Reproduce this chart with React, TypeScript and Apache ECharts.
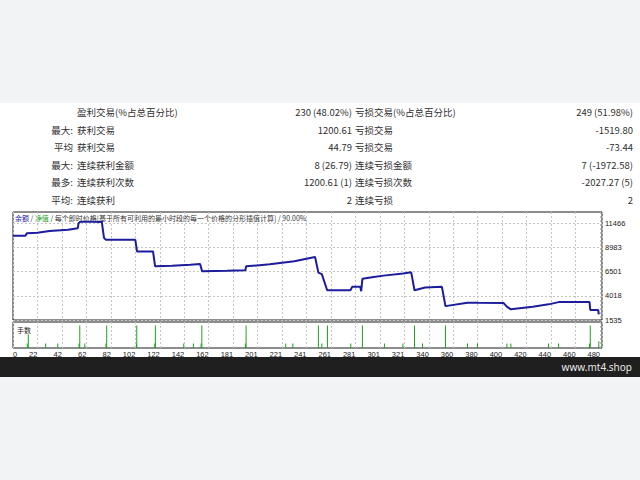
import React, { useEffect, useRef } from 'react';
import * as echarts from 'echarts';

// ---- statistics table ----
const rowPrefixes = ['', '最大:', '平均', '最大:', '最多:', '平均:'];
const winNames = ['盈利交易(%占总百分比)', '获利交易', '获利交易', '连续获利金额', '连续获利次数', '连续获利'];
const winValues = ['230 (48.02%)', '1200.61', '44.79', '8 (26.79)', '1200.61 (1)', '2'];
const lossNames = ['亏损交易(%占总百分比)', '亏损交易', '亏损交易', '连续亏损金额', '连续亏损次数', '连续亏损'];
const lossValues = ['249 (51.98%)', '-1519.80', '-73.44', '7 (-1972.58)', '-2027.27 (5)', '2'];

// ---- axes ----
const xTickLabels = ['0', '22', '42', '62', '82', '102', '122', '142', '162', '181', '201', '221', '241',
  '261', '281', '301', '321', '340', '360', '380', '400', '420', '440', '460', '480'];
const yTickValues = [1535, 4018, 6501, 8983, 11466];

// ---- balance curve (trade index, balance) ----
const equityX = [0, 10, 11.5, 20, 30, 45, 53, 53.6, 55, 65, 72.6, 74.4, 76, 90, 100, 101.4, 114.5, 116.2,
  130, 145, 153, 154.6, 175, 190, 190.6, 210, 230, 247, 249.7, 252.5, 256.9, 276, 277.3, 284, 284.7, 285.7,
  295, 303, 319, 325.6, 328.3, 337, 350.7, 353.6, 371.6, 380, 401, 403.8, 407.1, 425, 437.9, 446.1, 471.4,
  472, 478.5, 479];
const equityY = [10170, 10170, 10450, 10500, 10680, 10800, 10960, 11470, 11630, 11620, 11600, 9970, 9760,
  9780, 9760, 8570, 8570, 7040, 7100, 7200, 7290, 6530, 6580, 6640, 7040, 7250, 7560, 8000, 6400, 6250,
  4590, 4600, 4940, 4940, 4490, 5760, 5950, 6090, 6300, 6430, 4590, 4870, 4940, 2960, 3310, 3300, 3290,
  2900, 2630, 2900, 3140, 3370, 3370, 2560, 2550, 2120];

// ---- lots panel ----
const lotX = [11.7, 12.5, 26.7, 36.6, 54, 54.6, 58.7, 76, 76.6, 100.9, 101.2, 115.9, 116.4, 139.6, 147.5,
  153.8, 154.4, 190, 190.6, 223, 228.8, 249.7, 252.5, 257.1, 276.2, 285.7, 303.7, 318.8, 328.3, 334.8,
  353.6, 371.6, 379.8, 403.8, 407.1, 437.9, 446.1, 471.4, 472, 479];
const lotY = [0.2, 0.6, 0.2, 0.2, 0.2, 1.0, 0.2, 0.2, 1.0, 0.2, 1.0, 0.2, 1.0, 0.2, 0.2, 0.2, 1.0, 0.2,
  1.0, 0.2, 0.2, 1.0, 0.2, 1.0, 0.2, 1.0, 0.2, 0.2, 1.0, 0.2, 1.0, 0.2, 0.2, 0.2, 0.2, 0.2, 0.2, 0.2, 1.0, 0.3];

const CJK = '"Noto Sans CJK SC", "Noto Sans", sans-serif';
const SMALL = '"Liberation Sans", Arial, sans-serif';

export default function App() {
  const ref = useRef<HTMLDivElement>(null);
  useEffect(() => {
    if (!ref.current) return;
    const chart = echarts.init(ref.current, null, { renderer: 'svg' });

    const rowY = [112, 129.5, 147, 164.5, 182, 199.5];
    const textColor = '#303030';
    const tableTexts: any[] = [];
    rowY.forEach((y, i) => {
      const mk = (x: number, text: string, align: string) => ({
        type: 'text', x, y, silent: true,
        style: { text, fill: textColor, fontSize: 9.5, fontFamily: CJK, align, verticalAlign: 'middle' },
      });
      if (rowPrefixes[i]) tableTexts.push(mk(73, rowPrefixes[i], 'right'));
      tableTexts.push(mk(77, winNames[i], 'left'));
      tableTexts.push(mk(352, winValues[i], 'right'));
      tableTexts.push(mk(355, lossNames[i], 'left'));
      tableTexts.push(mk(633, lossValues[i], 'right'));
    });

    const xFmt = (v: number) => {
      const k = Math.round(v / 20);
      if (Math.abs(v - k * 20) > 1e-6) return '';
      return xTickLabels[k] ?? '';
    };

    const dashed = { show: true, lineStyle: { color: '#c4c4c4', type: [2, 2] as any, width: 1 } };

    chart.setOption({
      animation: false,
      backgroundColor: 'transparent',
      grid: [
        { left: 13, top: 212, width: 589, height: 108, show: true, borderColor: '#1a1a1a', borderWidth: 1, backgroundColor: 'transparent' },
        { left: 13, top: 322, width: 589, height: 26, show: true, borderColor: '#1a1a1a', borderWidth: 1, backgroundColor: 'transparent' },
      ],
      xAxis: [
        {
          type: 'value', gridIndex: 0, min: 0, max: 481.6, interval: 20,
          axisLine: { show: false }, axisTick: { show: false }, axisLabel: { show: false },
          splitLine: dashed,
        },
        {
          type: 'value', gridIndex: 1, min: 0, max: 481.6, interval: 20,
          axisLine: { show: false }, axisTick: { show: false },
          axisLabel: {
            show: true, formatter: xFmt, fontSize: 7.5, fontFamily: SMALL, color: '#222',
            margin: 2, align: 'right', alignMinLabel: 'left', hideOverlap: false,
          },
          splitLine: dashed,
        },
      ],
      yAxis: [
        {
          type: 'value', gridIndex: 0, position: 'right', min: 1535, max: 12620,
          axisLine: { show: false },
          axisTick: { show: false, customValues: yTickValues },
          axisLabel: {
            show: true, customValues: yTickValues, fontSize: 7.5, fontFamily: SMALL, color: '#222',
            margin: 3, formatter: (v: number) => String(Math.round(v)),
          },
          splitLine: dashed,
        },
        {
          type: 'value', gridIndex: 1, min: 0, max: 1.15,
          axisLine: { show: false }, axisTick: { show: false }, axisLabel: { show: false },
          splitLine: { show: false },
        },
      ],
      graphic: [
        ...tableTexts,
        {
          type: 'text', x: 15, y: 218, silent: true,
          style: {
            text: '{b|余额} / {g|净值} / 每个即时价格[基于所有可利用的最小时段的每一个价格的分形插值计算] / 90.00%',
            fill: '#333', fontSize: 7, fontFamily: CJK, verticalAlign: 'middle',
            rich: { b: { fill: '#1818a0', fontSize: 7, fontFamily: CJK }, g: { fill: '#18a018', fontSize: 7, fontFamily: CJK } },
          },
        },
        {
          type: 'text', x: 17, y: 330, silent: true,
          style: { text: '手数', fill: '#222', fontSize: 7, fontFamily: CJK, verticalAlign: 'middle' },
        },
        {
          type: 'text', x: 632, y: 367, silent: true,
          style: { text: 'www.mt4.shop', fill: '#e6e6e6', fontSize: 10, fontFamily: '"Noto Sans", sans-serif', align: 'right', verticalAlign: 'middle' },
        },
      ],
      series: [
        {
          type: 'line', xAxisIndex: 0, yAxisIndex: 0,
          data: equityX.map((x, i) => [x, equityY[i]]),
          showSymbol: false, symbol: 'none',
          lineStyle: { color: '#1c1c9c', width: 2 },
        },
        {
          type: 'bar', xAxisIndex: 1, yAxisIndex: 1,
          data: lotX.map((x, i) => [x, lotY[i]]),
          barWidth: 1,
          itemStyle: { color: '#1ea01e' },
        },
      ],
    });
    return () => chart.dispose();
  }, []);

  return (
    <div
      ref={ref}
      style={{
        position: 'fixed', left: 0, top: 0, width: 640, height: 480,
        background: 'linear-gradient(to bottom, #f2f3f5 0px, #f2f3f5 103px, #ffffff 103px, #ffffff 357px, #1f1f1f 357px, #1f1f1f 377px, #f2f3f5 377px, #f2f3f5 480px)',
      }}
    />
  );
}
